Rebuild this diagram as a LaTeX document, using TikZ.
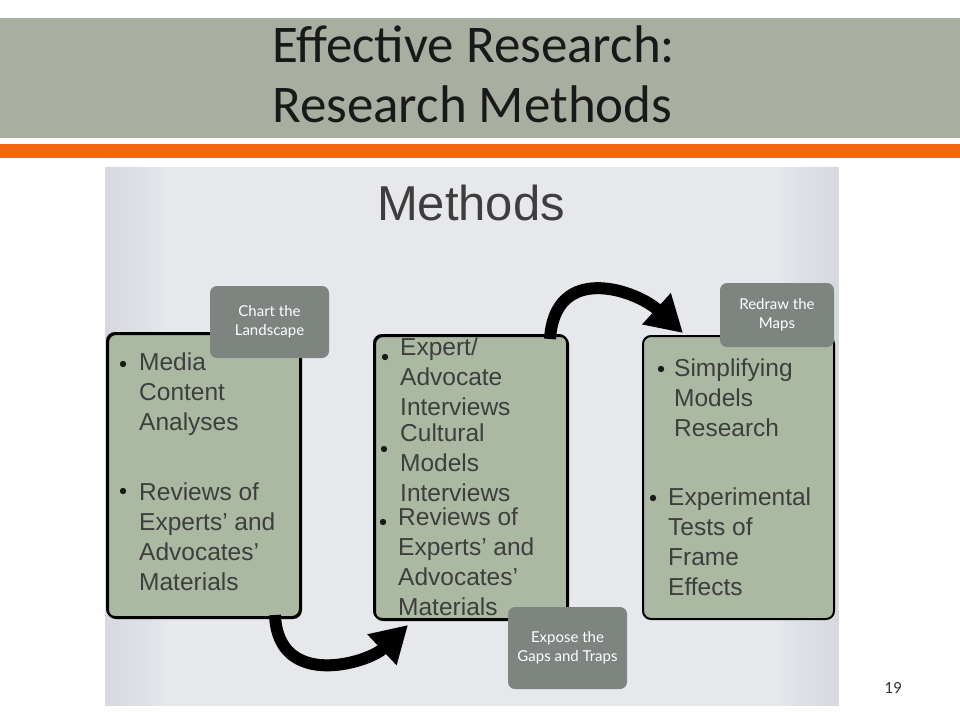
\documentclass[tikz,border=0pt]{standalone}
\usepackage{fontspec}
\setmainfont{Liberation Sans}
\newfontfamily\titlefont{Carlito}
\newfontfamily\labfont{Lato}
\usetikzlibrary{arrows.meta,calc}
\definecolor{bandgray}{HTML}{A9AFA0}
\definecolor{bandorange}{HTML}{F2680F}
\definecolor{boxgreen}{HTML}{ACB9A2}
\definecolor{labgray}{HTML}{7E8480}
\definecolor{txtgray}{HTML}{3E3E3E}
\definecolor{slideedge}{HTML}{BFC5CC}
\definecolor{slidemid}{HTML}{E6E8EB}
\tikzset{
  mbox/.style={draw=black, line width=2pt, fill=boxgreen, rounded corners=8pt, anchor=north west, inner sep=0pt},
  labbox/.style={fill=labgray, rounded corners=7pt, text=white, align=center, inner sep=0pt, font=\labfont\fontsize{15}{19}\selectfont},
  btext/.style={anchor=north west, align=left, inner sep=0pt, text=txtgray, font=\fontsize{24.5}{30}\selectfont},
  bul/.style={fill=black!90},
  flow/.style={line width=12pt, -{Triangle[length=36pt,width=40pt]}},
  ttl/.style={anchor=base west, inner sep=0pt, font=\titlefont\fontsize{53}{60}\selectfont, text=black!90}
}
\begin{document}
\begin{tikzpicture}[x=1pt,y=-1pt]
\useasboundingbox (0,0) rectangle (960,720);
\fill[white] (0,0) rectangle (960,720);
% title band
\fill[bandgray] (0,18) rectangle (960,138);
\fill[bandorange] (0,144) rectangle (960,158);
\node[ttl] (t1) at (272,62) {Effective Research:};
\node[ttl] (t2) at (272,122) {Research Methods};
% slide background
\fill[slidemid] (105,167) rectangle (839,706);
\foreach \i in {1,...,12} {
  \fill[slideedge, fill opacity=0.03] (105,167) rectangle ({105+5*\i},706);
  \fill[slideedge, fill opacity=0.03] ({839-5*\i},167) rectangle (839,706);
}
\node[anchor=base, inner sep=0pt, text=txtgray, font=\fontsize{49}{50}\selectfont] (meth) at (471,220) {Methods};
% boxes
\node[mbox, minimum width=193pt, minimum height=284pt] (b1) at (107,333) {};
\node[mbox, minimum width=193pt, minimum height=284pt] (b2) at (374,335) {};
\node[mbox, minimum width=191pt, minimum height=283pt] (b3) at (642,335) {};
% arrows
\draw[flow] ($(b1.south east)+(-27,-4)$) .. controls (278,690) and (368,663) .. ($(b2.south west)+(34,4)$);
\draw[flow] ($(b2.north west)+(176,4)$) .. controls (555,262) and (636,290) .. ($(b3.north west)+(41,-2)$);
% redraw box borders over arrow starts
\draw[line width=2pt, rounded corners=8pt] (107,333) rectangle (300,617);
\draw[line width=2pt, rounded corners=8pt] (374,335) rectangle (567,619);
% labels
\node[labbox, minimum width=119pt, minimum height=72pt] (l1) at (269.5,322) {Chart the\\Landscape};
\node[labbox, minimum width=114pt, minimum height=64pt] (l3) at (777,315) {Redraw the\\Maps};
\node[labbox, minimum width=119pt, minimum height=82pt] (l2) at (567.5,648) {Expose the\\Gaps and Traps};
% box 1 text
\fill[bul] (123,364) circle (3.2);
\node[btext] (t11) at (139,352.5) {Media\\Content\\Analyses};
\fill[bul] (123,491) circle (3.2);
\node[btext] (t12) at (139,482.5) {Reviews of\\Experts’ and\\Advocates’\\Materials};
% box 2 text
\fill[bul] (385,357) circle (3.2);
\node[btext] (t21) at (400,337.5) {Expert/\\Advocate\\Interviews};
\fill[bul] (384,449) circle (3.2);
\node[btext] (t22) at (400,424) {Cultural\\Models\\Interviews};
\fill[bul] (383,522) circle (3.2);
\node[btext] (t23) at (398,507.5) {Reviews of\\Experts’ and\\Advocates’\\Materials};
% box 3 text
\fill[bul] (661,369) circle (3.2);
\node[btext] (t31) at (674,359) {Simplifying\\Models\\Research};
\fill[bul] (653,498) circle (3.2);
\node[btext] (t32) at (668,487.5) {Experimental\\Tests of\\Frame\\Effects};
% page number
\node[anchor=base, inner sep=0pt, text=black!80, font=\titlefont\fontsize{17}{19}\selectfont] (pg) at (893,693) {19};
\end{tikzpicture}
\end{document}
